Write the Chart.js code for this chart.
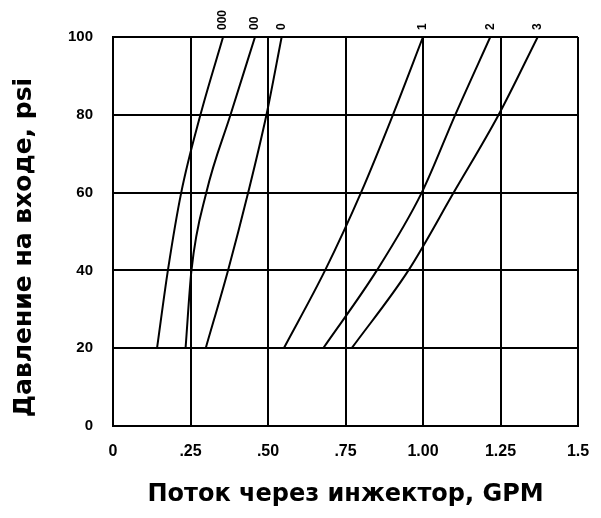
<!DOCTYPE html>
<html>
<head>
<meta charset="utf-8">
<script src="https://cdn.jsdelivr.net/npm/chart.js@4.4.0/dist/chart.umd.min.js"></script>
<style>
html,body{margin:0;padding:0;background:#fff;}
#wrap{width:601px;height:518px;}
</style>
</head>
<body>
<div id="wrap"><canvas id="c" width="601" height="518"></canvas></div>
<script>
// Pressure levels (psi) at which each curve was read
const pressures = [20, 40, 60, 80, 100];
// Flow (GPM) for each injector size
const seriesNames = ['000', '00', '0', '1', '2', '3'];
const flow000 = [0.142, 0.177, 0.220, 0.282, 0.355];
const flow00  = [0.234, 0.253, 0.301, 0.379, 0.458];
const flow0   = [0.299, 0.371, 0.436, 0.495, 0.544];
const flow1   = [0.551, 0.684, 0.800, 0.903, 1.000];
const flow2   = [0.678, 0.851, 0.996, 1.104, 1.217];
const flow3   = [0.770, 0.953, 1.099, 1.244, 1.370];
const xTickValues = [0, 0.25, 0.5, 0.75, 1.0, 1.25, 1.5];
const xTickLabels = ['0', '.25', '.50', '.75', '1.00', '1.25', '1.5'];
const yTickLabels = ['0', '20', '40', '60', '80', '100'];
const xTitle = 'Поток через инжектор, GPM';
const yTitle = 'Давление на входе, psi';

const allFlows = [flow000, flow00, flow0, flow1, flow2, flow3];
const datasets = allFlows.map((f, i) => ({
  label: seriesNames[i],
  data: f.map((x, j) => ({x: x, y: pressures[j]})),
  showLine: true,
  borderColor: '#000',
  borderWidth: 2,
  pointRadius: 0,
  cubicInterpolationMode: 'monotone',
  fill: false
}));

const tickFont = '"Liberation Sans", Arial, sans-serif';
const titleFont = '"DejaVu Sans", "Liberation Sans", sans-serif';

const curveLabels = {
  id: 'curveLabels',
  afterDatasetsDraw(chart) {
    const ctx = chart.ctx;
    const xs = chart.scales.x, ys = chart.scales.y;
    ctx.save();
    ctx.fillStyle = '#000';
    ctx.font = 'bold 12px ' + tickFont;
    ctx.textAlign = 'left';
    ctx.textBaseline = 'middle';
    chart.data.datasets.forEach(ds => {
      const last = ds.data[ds.data.length - 1];
      const px = xs.getPixelForValue(last.x);
      const py = ys.getPixelForValue(last.y);
      ctx.save();
      ctx.translate(px, py - 7);
      ctx.rotate(-Math.PI / 2);
      ctx.fillText(ds.label, 0, 0);
      ctx.restore();
    });
    // y-axis title
    const ca = chart.chartArea;
    ctx.save();
    ctx.font = 'bold 25px ' + titleFont;
    ctx.textAlign = 'center';
    ctx.textBaseline = 'middle';
    ctx.translate(24, (ca.top + ca.bottom) / 2 + 16);
    ctx.rotate(-Math.PI / 2);
    ctx.fillText(yTitle, 0, 0);
    ctx.restore();
    ctx.restore();
  }
};

new Chart(document.getElementById('c'), {
  type: 'scatter',
  data: { datasets },
  plugins: [curveLabels],
  options: {
    responsive: false,
    animation: false,
    layout: { padding: { top: 37, right: 23, left: 48, bottom: 9 } },
    plugins: { legend: { display: false }, tooltip: { enabled: false } },
    scales: {
      x: {
        type: 'linear', min: 0, max: 1.5,
        afterBuildTicks: (s) => { s.ticks = xTickValues.map(v => ({value: v})); },
        ticks: {
          color: '#000', padding: 4,
          font: { family: tickFont, size: 16, weight: 'bold' },
          maxRotation: 0,
          callback: (v) => { const i = xTickValues.indexOf(v); return i >= 0 ? xTickLabels[i] : ''; }
        },
        grid: { color: '#000', lineWidth: 2, drawTicks: true, tickLength: 12, tickColor: 'rgba(0,0,0,0)' },
        border: { color: '#000', width: 2 },
        title: {
          display: true, text: xTitle, color: '#000', padding: { top: 15, bottom: 0 },
          font: { family: titleFont, size: 24, weight: 'bold' }
        }
      },
      y: {
        type: 'linear', min: 0, max: 100,
        ticks: {
          stepSize: 20, color: '#000', padding: 20,
          font: { family: tickFont, size: 15, weight: 'bold' },
          callback: (v) => yTickLabels[Math.round(v / 20)]
        },
        grid: { color: '#000', lineWidth: 2, drawTicks: false },
        border: { color: '#000', width: 2 },
        title: { display: false }
      }
    }
  }
});
</script>
</body>
</html>
